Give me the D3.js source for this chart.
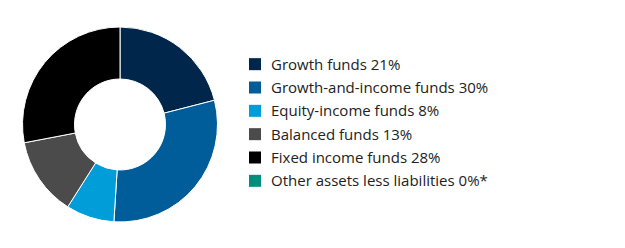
<!DOCTYPE html>
<html>
<head>
<meta charset="utf-8">
<script src="https://cdn.jsdelivr.net/npm/d3@7"></script>
<style>
	body { margin: 0; background: #fff; }
	svg { display: block; }
</style>
</head>
<body>
<div id="chart"></div>
<script>
	var w = 625
	var h = 248

	// data
	var categories = ["Growth funds", "Growth-and-income funds", "Equity-income funds", "Balanced funds", "Fixed income funds", "Other assets less liabilities"]
	var values = [21, 30, 8, 13, 28, 0]
	var labels = ["Growth funds 21%", "Growth-and-income funds 30%", "Equity-income funds 8%", "Balanced funds 13%", "Fixed income funds 28%", "Other assets less liabilities 0%*"]
	var colors = ["#00264c", "#005d9a", "#009dd9", "#4b4b4b", "#000000", "#008f7c"]

	var cx = 120
	var cy = 124.5
	var outerR = 97.5
	var innerR = 45.5

	var svg = d3.select("#chart")
		.append("svg")
		.attr("width", w)
		.attr("height", h)

	var color = d3.scaleOrdinal()
		.domain(categories)
		.range(colors)

	var slices = categories.map((c, i) => ({ name: c, value: values[i] }))

	var pie = d3.pie()
		.sort(null)
		.value(d => d.value)

	var arc = d3.arc()
		.innerRadius(innerR)
		.outerRadius(outerR)

	// Donut
	svg.append("g")
		.attr("transform", "translate(" + cx + "," + cy + ")")
		.selectAll("path")
		.data(pie(slices).filter(d => d.data.value > 0))
		.enter()
		.append("path")
		.attr("d", arc)
		.attr("fill", d => color(d.data.name))
		.attr("stroke", "#fff")
		.attr("stroke-width", 1)

	// Legend
	var legendY = d3.scaleBand()
		.domain(categories)
		.range([52.5, 192.5])

	var legend = svg.append("g")

	var rows = legend.selectAll("g")
		.data(categories)
		.enter()
		.append("g")
		.attr("transform", d => "translate(249," + (legendY(d) + legendY.bandwidth() / 2) + ")")

	rows.append("rect")
		.attr("x", 0)
		.attr("y", -6)
		.attr("width", 12)
		.attr("height", 12)
		.attr("fill", d => color(d))

	rows.append("text")
		.attr("x", 22)
		.attr("y", 0)
		.attr("dy", "0.36em")
		.style("font-family", "'Open Sans', sans-serif")
		.style("font-size", "15px")
		.style("fill", "#222")
		.text((d, i) => labels[i])
</script>
</body>
</html>
